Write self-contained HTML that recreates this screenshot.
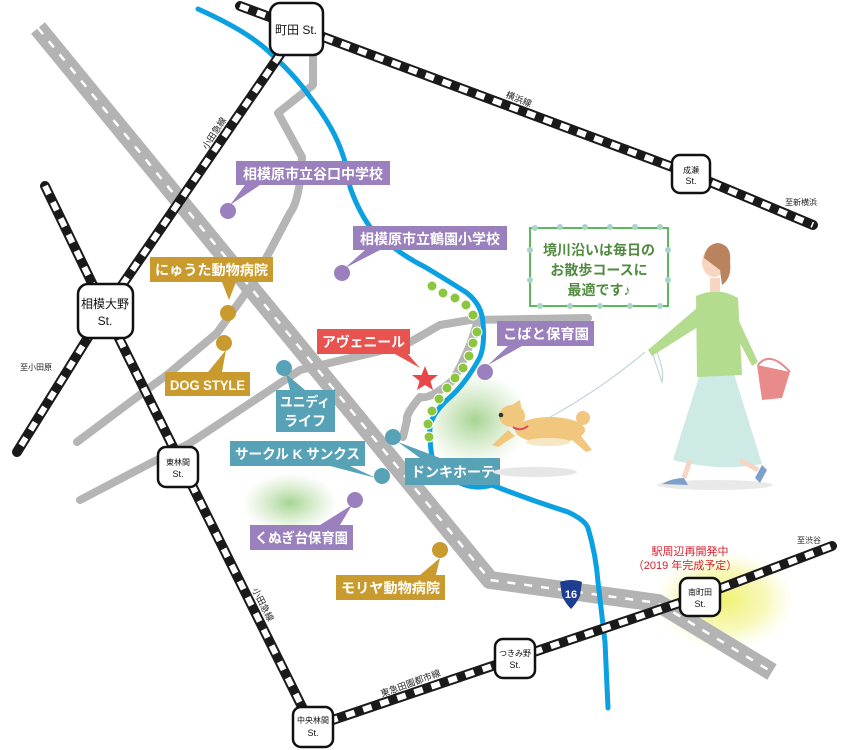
<!DOCTYPE html>
<html><head><meta charset="utf-8">
<style>
html,body{margin:0;padding:0;background:#fff;}
svg{display:block;font-family:"Liberation Sans","Noto Sans CJK JP",sans-serif;}
.cl{fill:#fff;font-weight:bold;font-size:14px;}
.st{font-size:9px;fill:#222;}
.sm{font-size:8px;fill:#222;}
</style></head><body>
<svg width="850" height="750" viewBox="0 0 850 750" xmlns="http://www.w3.org/2000/svg">
<defs>
<radialGradient id="gg"><stop offset="0" stop-color="#9ccf86" stop-opacity=".9"/><stop offset="1" stop-color="#b9dca5" stop-opacity="0"/></radialGradient>
<radialGradient id="yg"><stop offset="0" stop-color="#eef06a" stop-opacity=".95"/><stop offset=".6" stop-color="#f3f48e" stop-opacity=".6"/><stop offset="1" stop-color="#f8f8c0" stop-opacity="0"/></radialGradient>
</defs>
<ellipse cx="475" cy="420" rx="55" ry="48" fill="url(#gg)"/>
<ellipse cx="290" cy="503" rx="48" ry="30" fill="url(#gg)"/>
<ellipse cx="725" cy="600" rx="70" ry="50" fill="url(#yg)"/>
<g fill="none" stroke="#b5b5b5" stroke-width="8" stroke-linecap="round" stroke-linejoin="round">
<path d="M313,55 L313,85 L278,113 L302,157 Q300,200 290,213 L253,283 L217,333 L167,375 L153,385 L77,442"/>
<path d="M80,500 L147,465 L190,443 L300,370 L405,345 L440,325 L470,320 L588,318"/>
<path d="M477,323 Q470,350 453,380 Q430,400 420,397 Q405,415 407,420 L403,437"/>
</g>
<path d="M38,28 L490,580 L658,603 L772,672" fill="none" stroke="#b3b3b3" stroke-width="18" stroke-linejoin="round"/>
<path d="M38,28 L490,580 L658,603 L772,672" fill="none" stroke="#fff" stroke-width="2.5" stroke-dasharray="8 9" stroke-linejoin="round"/>
<path d="M198,9 Q245,30 267,50 Q295,75 310,97 Q328,120 337,140 Q348,165 350,187 Q358,210 370,227 Q395,252 425,267 Q455,285 467,293 Q482,305 483,323 Q485,345 480,357 Q465,385 447,400 Q428,418 430,433 Q430,450 433,460 Q445,475 460,483 Q475,490 492,485 Q530,500 568,512 Q585,520 588,528 Q596,555 598,582 L605,642 L608,708" fill="none" stroke="#0aa0e2" stroke-width="5" stroke-linecap="round" stroke-linejoin="round"/>
<g fill="#8cc63f" stroke="#fff" stroke-width="1">
<circle cx="432" cy="286" r="5"/><circle cx="443" cy="293" r="5"/><circle cx="455" cy="298" r="5"/><circle cx="466" cy="305" r="5"/><circle cx="473" cy="315" r="5"/><circle cx="477" cy="332" r="5"/><circle cx="473" cy="343" r="5"/><circle cx="469" cy="356" r="5"/><circle cx="463" cy="368" r="5"/><circle cx="455" cy="378" r="5"/><circle cx="447" cy="388" r="5"/><circle cx="439" cy="399" r="5"/><circle cx="432" cy="411" r="5"/><circle cx="428" cy="424" r="5"/><circle cx="429" cy="437" r="5"/>
</g>
<g fill="none" stroke-linecap="round">
<g stroke="#1a1a1a" stroke-width="10">
<path d="M240,6 L691,174 L813,225"/>
<path d="M290,40 L105,310 L312,727"/>
<path d="M45,186 L105,310 L17,452"/>
<path d="M312,727 L516,658 L700,596 L832,546"/>
</g>
<g stroke="#fff" stroke-width="6" stroke-dasharray="9 9" stroke-linecap="butt">
<path d="M240,6 L691,174 L813,225"/>
<path d="M290,40 L105,310 L312,727"/>
<path d="M45,186 L105,310 L17,452"/>
<path d="M312,727 L516,658 L700,596 L832,546"/>
</g>
</g>
<g fill="#fff" stroke="#111" stroke-width="2.5">
<rect x="270" y="3" width="53" height="52" rx="10"/>
<rect x="78" y="284" width="55" height="54" rx="10"/>
<rect x="158" y="447" width="40" height="40" rx="8"/>
<rect x="293" y="707" width="40" height="40" rx="8"/>
<rect x="495" y="639" width="40" height="39" rx="8"/>
<rect x="680" y="578" width="40" height="38" rx="8"/>
<rect x="672" y="155" width="38" height="38" rx="8"/>
</g>
<text x="296" y="34" text-anchor="middle" font-size="12" fill="#111">町田 St.</text>
<text x="105" y="308" text-anchor="middle" font-size="12" fill="#111">相模大野</text>
<text x="105" y="325" text-anchor="middle" font-size="12" fill="#111">St.</text>
<g text-anchor="middle" fill="#111">
<text x="178" y="465" font-size="8">東林間</text><text x="178" y="477" font-size="9">St.</text>
<text x="313" y="723" font-size="8">中央林間</text><text x="313" y="736" font-size="9">St.</text>
<text x="515" y="656" font-size="8">つきみ野</text><text x="515" y="668" font-size="9">St.</text>
<text x="700" y="595" font-size="8">南町田</text><text x="700" y="607" font-size="9">St.</text>
<text x="691" y="173" font-size="8">成瀬</text><text x="691" y="184" font-size="9">St.</text>
</g>
<text class="st" transform="translate(207,150) rotate(-57)">小田急線</text>
<text class="st" transform="translate(505,97) rotate(22)">横浜線</text>
<text class="st" transform="translate(252,590) rotate(63)">小田急線</text>
<text class="st" transform="translate(382,697) rotate(-20)">東急田園都市線</text>
<text class="sm" x="20" y="370">至小田原</text>
<text class="sm" x="785" y="205">至新横浜</text>
<text class="sm" x="797" y="543">至渋谷</text>
<text x="690" y="555" text-anchor="middle" font-size="11" fill="#d6202e">駅周辺再開発中</text>
<text x="685" y="569" text-anchor="middle" font-size="11" fill="#d6202e">（2019 年完成予定）</text>
<path d="M560,582 Q571,578 582,582 L580,596 Q576,604 571,609 Q566,604 562,596 Z" fill="#1d3e8e"/>
<text x="571" y="598" text-anchor="middle" font-size="11" font-weight="bold" fill="#fff">16</text>
<g fill="#9a80bd">
<rect x="236" y="161" width="154" height="24"/><polygon points="245,185 260,185 230,205"/><circle cx="228" cy="211" r="8"/>
<rect x="353" y="226" width="154" height="24"/><polygon points="365,250 380,250 345,268"/><circle cx="342" cy="273" r="8"/>
<rect x="497" y="321" width="97" height="25"/><polygon points="508,346 522,346 488,365"/><circle cx="485" cy="372" r="8"/>
<rect x="250" y="525" width="103" height="25"/><polygon points="320,525 340,525 352,505"/><circle cx="355" cy="500" r="8"/>
</g>
<text class="cl" x="243" y="179" textLength="140" lengthAdjust="spacingAndGlyphs">相模原市立谷口中学校</text>
<text class="cl" x="360" y="244" textLength="140" lengthAdjust="spacingAndGlyphs">相模原市立鶴園小学校</text>
<text class="cl" x="503" y="339" textLength="86" lengthAdjust="spacingAndGlyphs">こばと保育園</text>
<text class="cl" x="255" y="543" textLength="93" lengthAdjust="spacingAndGlyphs">くぬぎ台保育園</text>
<g fill="#c99a2e">
<rect x="150" y="257" width="123" height="25"/><polygon points="222,282 236,282 229,300"/><circle cx="228" cy="313" r="8"/>
<rect x="165" y="372" width="85" height="24"/><polygon points="208,372 222,372 226,350"/><circle cx="224" cy="343" r="8"/>
<rect x="336" y="575" width="109" height="25"/><polygon points="420,575 436,575 440,558"/><circle cx="440" cy="550" r="8"/>
</g>
<text class="cl" x="155" y="275" textLength="113" lengthAdjust="spacingAndGlyphs">にゅうた動物病院</text>
<text class="cl" x="170" y="390" font-size="13" textLength="75" lengthAdjust="spacingAndGlyphs">DOG STYLE</text>
<text class="cl" x="341" y="593" textLength="99" lengthAdjust="spacingAndGlyphs">モリヤ動物病院</text>
<g fill="#57a2b6">
<rect x="276" y="390" width="59" height="42"/><polygon points="290,390 305,390 286,374"/><circle cx="284" cy="368" r="8"/>
<rect x="230" y="441" width="135" height="25"/><polygon points="330,466 350,466 376,478"/><circle cx="382" cy="476" r="8"/>
<rect x="405" y="458" width="95" height="27"/><polygon points="420,458 440,458 398,442"/><circle cx="393" cy="437" r="8"/>
</g>
<text class="cl" x="305" y="407" text-anchor="middle" textLength="50" lengthAdjust="spacingAndGlyphs">ユニディ</text>
<text class="cl" x="305" y="426" text-anchor="middle">ライフ</text>
<text class="cl" x="235" y="459" textLength="125" lengthAdjust="spacingAndGlyphs">サークル K サンクス</text>
<text class="cl" x="411" y="477" textLength="84" lengthAdjust="spacingAndGlyphs">ドンキホーテ</text>
<rect x="317" y="329" width="93" height="25" fill="#e8534f"/><polygon points="395,354 408,354 420,368" fill="#e8534f"/>
<text class="cl" x="322" y="347" textLength="83" lengthAdjust="spacingAndGlyphs">アヴェニール</text>
<polygon points="425,366 428.5,375 438,375 430.5,381 433,390 425,385 417,390 419.5,381 412,375 421.5,375" fill="#e8474a"/>
<rect x="530" y="228" width="138" height="78" fill="#fff" stroke="#5cb85c" stroke-width="2"/>
<g fill="#a9d4c9"><circle cx="535" cy="228" r="3"/><circle cx="560" cy="227" r="3"/><circle cx="585" cy="227" r="3"/><circle cx="610" cy="227" r="3"/><circle cx="635" cy="227" r="3"/><circle cx="660" cy="227" r="3"/><circle cx="540" cy="306" r="3"/><circle cx="570" cy="306" r="3"/><circle cx="600" cy="306" r="3"/><circle cx="630" cy="306" r="3"/><circle cx="660" cy="306" r="3"/><circle cx="530" cy="250" r="3"/><circle cx="530" cy="280" r="3"/><circle cx="668" cy="250" r="3"/><circle cx="668" cy="280" r="3"/></g>
<g font-size="14" fill="#4f8a3e" text-anchor="middle" font-weight="bold">
<text x="599" y="255">境川沿いは毎日の</text>
<text x="599" y="275">お散歩コースに</text>
<text x="599" y="295">最適です♪</text>
</g>
<ellipse cx="535" cy="472" rx="42" ry="5" fill="#e6e6e6"/>
<ellipse cx="715" cy="485" rx="58" ry="5" fill="#e9e9e9"/>
<path d="M645,352 Q600,390 545,420" fill="none" stroke="#c5d6dc" stroke-width="1.2"/>
<path d="M655,348 Q665,370 662,382 Q658,370 652,352" fill="none" stroke="#c5d6dc" stroke-width="1.2"/>
<g fill="#f1c77d">
<ellipse cx="550" cy="430" rx="35" ry="13"/>
<ellipse cx="512" cy="416" rx="13" ry="11"/>
<polygon points="512,405 520,400 522,412"/>
<path d="M508,430 L492,445 L498,447 L515,436 Z"/>
<path d="M578,432 L592,450 L586,452 L572,440 Z"/>
<circle cx="583" cy="418" r="7"/>
</g>
<ellipse cx="548" cy="442" rx="22" ry="4" fill="#f6e7c4"/>
<circle cx="501" cy="415" r="2.3" fill="#333"/>
<path d="M513,427 Q520,432 528,426" fill="none" stroke="#d94b5a" stroke-width="2"/>
<path d="M700,374 L734,374 L762,464 Q720,472 673,460 Z" fill="#cdeae4"/>
<path d="M690,460 L684,478 M740,460 L758,470" stroke="#f6d6c3" stroke-width="5"/>
<path d="M662,484 Q672,478 684,478 L688,485 Z" fill="#7d9fcc"/>
<path d="M755,478 L762,465 L767,470 L760,483 Z" fill="#7d9fcc"/>
<path d="M696,296 Q718,286 738,298 L742,375 L697,377 Z" fill="#b3dc8f"/>
<path d="M704,302 L648,350 L652,356 L712,318 Z" fill="#b3dc8f"/>
<path d="M732,306 L758,362 L752,366 L728,320 Z" fill="#b3dc8f"/>
<rect x="710" y="278" width="10" height="14" fill="#f6d6c3"/>
<ellipse cx="714" cy="262" rx="12" ry="15" fill="#f6d6c3"/>
<path d="M704,258 Q706,244 718,243 Q732,245 730,262 Q732,278 722,285 L720,270 Z" fill="#b9835e"/>
<path d="M757,365 L790,372 L782,398 L762,400 Z" fill="#ea8b8b"/>
<path d="M758,365 Q770,350 790,372" fill="none" stroke="#ea8b8b" stroke-width="2"/>
</svg>
</body></html>
